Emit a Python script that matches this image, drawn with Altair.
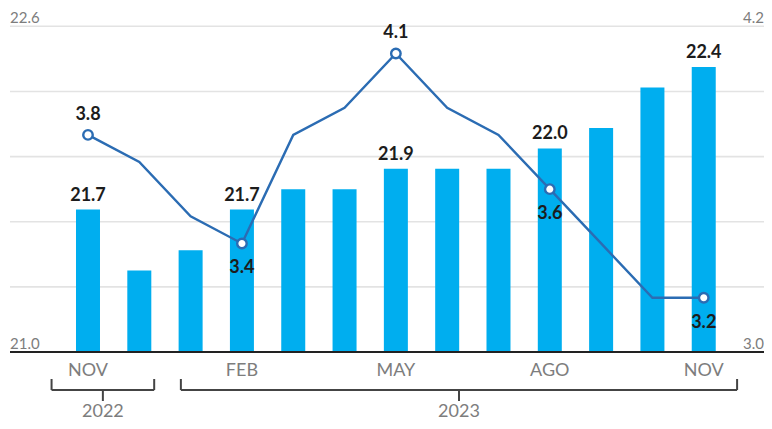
import altair as alt
import pandas as pd

# ---- data ----
months = ["NOV", "DIC", "ENE", "FEB", "MAR", "ABR", "MAY", "JUN", "JUL", "AGO", "SEP", "OCT", "NOV"]
bar_values = [21.7, 21.4, 21.5, 21.7, 21.8, 21.8, 21.9, 21.9, 21.9, 22.0, 22.1, 22.3, 22.4]
line_values = [3.8, 3.7, 3.5, 3.4, 3.8, 3.9, 4.1, 3.9, 3.8, 3.6, 3.4, 3.2, 3.2]
labeled_idx = [0, 3, 6, 9, 12]
line_label_side = ["above", "below", "above", "below", "below"]
grid_left = [21.32, 21.64, 21.96, 22.28, 22.6]
left_tick_vals = [22.6, 21.0]
left_tick_text = ["22.6", "21.0"]
right_tick_vals = [4.2, 3.0]
right_tick_text = ["4.2", "3.0"]
years = ["2022", "2023"]

BAR = "#00aeef"
LINE = "#2b6cb3"
GRAY = "#7d7d7d"
DARK = "#1c1c1c"
FONT = "Lato"

W, H = 756, 344
xs = alt.Scale(domain=[-1.4615, 13.0769], nice=False, zero=False)
yl = alt.Scale(domain=[21.0, 22.69], nice=False, zero=False)
yr = alt.Scale(domain=[3.0, 4.2675], nice=False, zero=False)

df = pd.DataFrame({
    "idx": list(range(len(months))),
    "month": months,
    "bar": bar_values,
    "rate": line_values,
})
df["show"] = df["idx"].isin(labeled_idx)
side_map = dict(zip(labeled_idx, line_label_side))
df["side"] = df["idx"].map(side_map).fillna("")
df["bar_txt"] = df["bar"].map(lambda v: f"{v:.1f}")
df["rate_txt"] = df["rate"].map(lambda v: f"{v:.1f}")

X = alt.X("idx:Q", scale=xs, axis=None)
base = alt.Chart(df)

grid = alt.Chart(pd.DataFrame({"v": grid_left})).mark_rule(color="#e3e3e3", strokeWidth=1.6).encode(
    y=alt.Y("v:Q", scale=yl, axis=None), x=alt.value(2), x2=alt.value(W)
)

bars = base.mark_bar(color=BAR, width=24).encode(
    x=X, y=alt.Y("bar:Q", scale=yl, axis=None), y2=alt.datum(21.0)
)

baseline = alt.Chart(pd.DataFrame({"v": [21.0]})).mark_rule(color="#222222", strokeWidth=2).encode(
    y=alt.Y("v:Q", scale=yl, axis=None), x=alt.value(2), x2=alt.value(W)
)

bar_labels = base.transform_filter("datum.show").mark_text(
    font=FONT, fontSize=18, fontWeight="bold", color=DARK, baseline="middle", dy=-14
).encode(x=X, y=alt.Y("bar:Q", scale=yl, axis=None), text="bar_txt:N")

line = base.mark_line(color=LINE, strokeWidth=2.4).encode(
    x=X, y=alt.Y("rate:Q", scale=yr, axis=None)
)

points = base.transform_filter("datum.show").mark_point(
    shape="circle", filled=True, fill="white", stroke=LINE, strokeWidth=2.4, size=90, opacity=1
).encode(x=X, y=alt.Y("rate:Q", scale=yr, axis=None))

line_lab_above = base.transform_filter("datum.side == 'above'").mark_text(
    font=FONT, fontSize=18, fontWeight="bold", color=DARK, baseline="middle", dy=-20
).encode(x=X, y=alt.Y("rate:Q", scale=yr, axis=None), text="rate_txt:N")

line_lab_below = base.transform_filter("datum.side == 'below'").mark_text(
    font=FONT, fontSize=18, fontWeight="bold", color=DARK, baseline="middle", dy=25
).encode(x=X, y=alt.Y("rate:Q", scale=yr, axis=None), text="rate_txt:N")

left_ticks = alt.Chart(pd.DataFrame({"v": left_tick_vals, "t": left_tick_text})).mark_text(
    font=FONT, fontSize=15, color=GRAY, align="left", baseline="middle", dy=-8
).encode(y=alt.Y("v:Q", scale=yl, axis=None), x=alt.value(2), text="t:N")

right_ticks = alt.Chart(pd.DataFrame({"v": right_tick_vals, "t": right_tick_text})).mark_text(
    font=FONT, fontSize=15, color=GRAY, align="right", baseline="middle", dy=-8
).encode(y=alt.Y("v:Q", scale=yr, axis=None), x=alt.value(W), text="t:N")

month_labels = base.transform_filter("datum.idx % 3 == 0").mark_text(
    font=FONT, fontSize=18, color=GRAY, baseline="middle"
).encode(x=X, y=alt.value(363), text="month:N")

# year brackets (span from just before first month to just after last month)
yb = pd.DataFrame({
    "year": years,
    "s": [-0.71, 1.81],
    "e": [1.29, 12.65],
})
yb["c"] = (yb["s"] + yb["e"]) / 2
BR = "#444444"
br_h = alt.Chart(yb).mark_rule(color=BR, strokeWidth=2).encode(
    x=alt.X("s:Q", scale=xs, axis=None), x2="e:Q", y=alt.value(382)
)
br_l = alt.Chart(yb).mark_rule(color=BR, strokeWidth=2).encode(
    x=alt.X("s:Q", scale=xs, axis=None), y=alt.value(371), y2=alt.value(382)
)
br_r = alt.Chart(yb).mark_rule(color=BR, strokeWidth=2).encode(
    x=alt.X("e:Q", scale=xs, axis=None), y=alt.value(371), y2=alt.value(382)
)
br_c = alt.Chart(yb).mark_rule(color=BR, strokeWidth=2).encode(
    x=alt.X("c:Q", scale=xs, axis=None), y=alt.value(382), y2=alt.value(393)
)
year_labels = alt.Chart(yb).mark_text(
    font=FONT, fontSize=18, color=GRAY, baseline="middle"
).encode(x=alt.X("c:Q", scale=xs, axis=None), y=alt.value(404), text="year:N")

chart = alt.layer(
    grid, bars, baseline, bar_labels, line, points, line_lab_above, line_lab_below,
    left_ticks, right_ticks, month_labels, br_h, br_l, br_r, br_c, year_labels
).resolve_scale(y="independent").properties(
    width=W, height=H,
    autosize=alt.AutoSizeParams(type="none"),
    padding={"left": 0, "top": 0, "right": 0, "bottom": 69},
    background="white",
).configure_view(stroke=None)

chart.save("out.html", embed_options={"renderer": "svg", "actions": False})
